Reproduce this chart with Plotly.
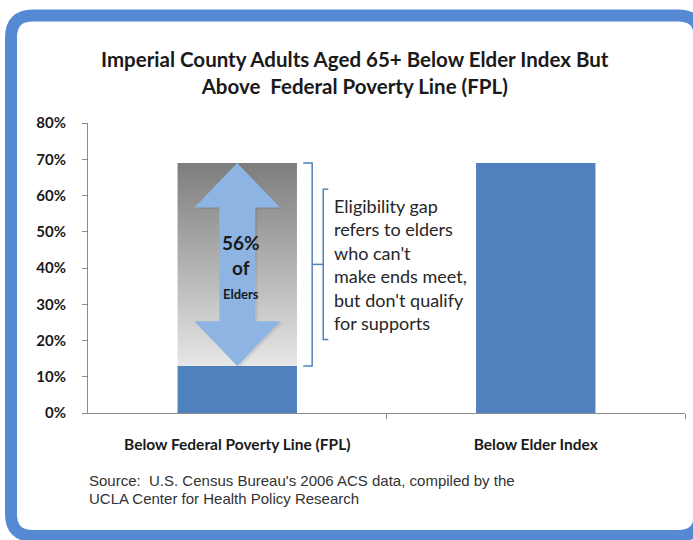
import plotly.graph_objects as go

# ---- data ----
categories = ["Below Federal Poverty Line (FPL)", "Below Elder Index"]
values = [0.13, 0.69]
y_ticks = [0, 0.1, 0.2, 0.3, 0.4, 0.5, 0.6, 0.7, 0.8]
y_tick_labels = ["0%", "10%", "20%", "30%", "40%", "50%", "60%", "70%", "80%"]
gap_label = "56%"
title_text = "Imperial County Adults Aged 65+ Below Elder Index But<br>Above  Federal Poverty Line (FPL)"
note_text = ("Eligibility gap<br>refers to elders<br>who can't<br>make ends meet,<br>"
             "but don't qualify<br>for supports")
source_lines = ["Source:  U.S. Census Bureau's 2006 ACS data, compiled by the",
                "UCLA Center for Health Policy Research"]

# ---- layout geometry ----
W, H = 693, 540
L, R, T, B = 88, 8, 123, 127
PW, PH = W - L - R, H - T - B
BAR_W = 0.4
BAR_COLOR = "#4f81bd"
ARROW_COLOR = "#8db4e2"
FONT = "Lato, Carlito, Calibri, sans-serif"


def px(x):
    return (x - L) / PW


def py(y):
    return (H - B - y) / PH


xs = list(range(len(categories)))
fpl, elder = values[0], values[1]
x0 = xs[0]

fig = go.Figure()

# gradient gap rectangle above the FPL bar up to the Elder Index value
fig.add_trace(go.Scatter(
    x=[x0 - BAR_W / 2, x0 + BAR_W / 2, x0 + BAR_W / 2, x0 - BAR_W / 2, x0 - BAR_W / 2],
    y=[fpl, fpl, elder, elder, fpl],
    mode="lines", fill="toself", line=dict(width=0),
    fillgradient=dict(type="vertical", colorscale=[[0, "#e6e6e6"], [1, "#7d7d7d"]]),
    hoverinfo="skip", showlegend=False,
))

# bars
fig.add_trace(go.Bar(x=xs, y=values, width=BAR_W, marker=dict(color=BAR_COLOR, line=dict(width=0)),
                     showlegend=False, hoverinfo="skip"))

# double-headed arrow spanning the gap
head_h = 0.123
head_w = 0.144
shaft_w = 0.06
ax_pts = [
    (x0, elder), (x0 + head_w, elder - head_h), (x0 + shaft_w, elder - head_h),
    (x0 + shaft_w, fpl + head_h), (x0 + head_w, fpl + head_h), (x0, fpl),
    (x0 - head_w, fpl + head_h), (x0 - shaft_w, fpl + head_h), (x0 - shaft_w, elder - head_h),
    (x0 - head_w, elder - head_h), (x0, elder),
]
# soft shadow
fig.add_trace(go.Scatter(
    x=[p[0] + 0.008 for p in ax_pts], y=[p[1] - 0.004 for p in ax_pts],
    mode="lines", fill="toself", fillcolor="rgba(60,60,60,0.10)", line=dict(width=0),
    hoverinfo="skip", showlegend=False,
))
fig.add_trace(go.Scatter(
    x=[p[0] for p in ax_pts], y=[p[1] for p in ax_pts],
    mode="lines", fill="toself", fillcolor=ARROW_COLOR, line=dict(width=0),
    hoverinfo="skip", showlegend=False,
))

mid = (fpl + elder) / 2
fig.add_annotation(x=x0 + 0.012, y=mid - 0.005, xref="x", yref="y", showarrow=False,
                   text=(f"<b><span style='font-size:19px'>{gap_label}</span><br>"
                         f"<span style='font-size:19px'>of</span><br>"
                         f"<span style='font-size:13px'>Elders</span></b>"),
                   font=dict(family=FONT, size=19, color="#1a1a1a"), yanchor="middle", xanchor="center")

# brackets
bl = dict(color=BAR_COLOR, width=1.5)
bx1, bx0, bnotch = 0.251, 0.221, 0.288
fig.add_shape(type="path", xref="x", yref="y", line=bl,
              path=f"M {bx0} {elder} L {bx1} {elder} L {bx1} {fpl} L {bx0} {fpl}")
fig.add_shape(type="line", xref="x", yref="y", line=bl, x0=bx1, x1=bnotch, y0=mid, y1=mid)
sb_top, sb_bot, sb_tip = mid + 0.207, mid - 0.207, 0.305
fig.add_shape(type="path", xref="x", yref="y", line=bl,
              path=f"M {sb_tip} {sb_top} L {bnotch} {sb_top} L {bnotch} {sb_bot} L {sb_tip} {sb_bot}")

fig.add_annotation(x=0.318, y=mid, xref="x", yref="y", showarrow=False, text=note_text,
                   align="left", xanchor="left", yanchor="middle",
                   font=dict(family=FONT, size=18, color="#262626"))

# title
fig.add_annotation(x=px(355), y=py(72), xref="paper", yref="paper", showarrow=False,
                   text=f"<b>{title_text}</b>", align="center", xanchor="center", yanchor="middle",
                   font=dict(family=FONT, size=20.5, color="#1a1a1a"))

# source
for line, yc in zip(source_lines, [480, 498]):
    fig.add_annotation(x=px(87), y=py(yc), xref="paper", yref="paper", showarrow=False,
                       text=line, align="left", xanchor="left", yanchor="middle",
                       font=dict(family="Liberation Sans, Arial, sans-serif",
                                 size=15, color="#333333"))

# rounded blue frame
x_l, x_r, y_t, y_b, r = 11, 700, 15.5, 536, 22
frame = (f"M {px(x_l)} {py(y_t + r)} Q {px(x_l)} {py(y_t)} {px(x_l + r)} {py(y_t)} "
         f"L {px(x_r - r)} {py(y_t)} Q {px(x_r)} {py(y_t)} {px(x_r)} {py(y_t + r)} "
         f"L {px(x_r)} {py(y_b - r)} Q {px(x_r)} {py(y_b)} {px(x_r - r)} {py(y_b)} "
         f"L {px(x_l + r)} {py(y_b)} Q {px(x_l)} {py(y_b)} {px(x_l)} {py(y_b - r)} Z")
fig.add_shape(type="path", xref="paper", yref="paper", path=frame,
              line=dict(color="#5589d4", width=12), layer="above")

fig.update_layout(
    width=W, height=H, margin=dict(l=L, r=R, t=T, b=B),
    paper_bgcolor="white", plot_bgcolor="white",
    bargap=0.6,
    xaxis=dict(range=[-0.5, 1.5], tickvals=xs, ticktext=[f"<b>{c}</b>" for c in categories],
               ticks="", showgrid=False, zeroline=False, showline=True, linecolor="#8c8c8c",
               linewidth=1, ticklabelstandoff=17,
               tickfont=dict(family=FONT, size=15.5, color="#1a1a1a"),
               minor=dict(tickmode="array", tickvals=[0.5, 1.5], ticks="outside", ticklen=5,
                          tickcolor="#8c8c8c", showgrid=False)),
    yaxis=dict(range=[0, 0.8], tickvals=y_ticks, ticktext=[f"<b>{t}</b>" for t in y_tick_labels],
               ticks="outside", ticklen=5, tickcolor="#8c8c8c", showgrid=False, zeroline=False,
               showline=True, linecolor="#8c8c8c", linewidth=1, ticklabelstandoff=13,
               tickfont=dict(family=FONT, size=15, color="#1a1a1a")),
)

fig.write_html("out.html", config={"displayModeBar": False},
               post_script="document.body.style.margin='0';")
